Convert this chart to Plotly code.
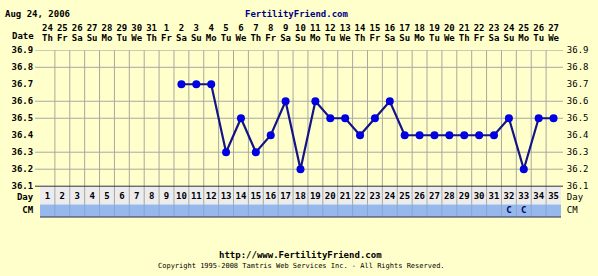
import plotly.graph_objects as go

# ---------------- data ----------------
days = list(range(1, 36))
dates = ["24", "25", "26", "27", "28", "29", "30", "31", "1", "2", "3", "4", "5", "6", "7", "8", "9",
         "10", "11", "12", "13", "14", "15", "16", "17", "18", "19", "20", "21", "22", "23", "24",
         "25", "26", "27"]
weekdays = ["Th", "Fr", "Sa", "Su", "Mo", "Tu", "We", "Th", "Fr", "Sa", "Su", "Mo", "Tu", "We",
            "Th", "Fr", "Sa", "Su", "Mo", "Tu", "We", "Th", "Fr", "Sa", "Su", "Mo", "Tu", "We",
            "Th", "Fr", "Sa", "Su", "Mo", "Tu", "We"]
temps = [None] * 9 + [36.7, 36.7, 36.7, 36.3, 36.5, 36.3, 36.4, 36.6, 36.2, 36.6, 36.5, 36.5,
                      36.4, 36.5, 36.6, 36.4, 36.4, 36.4, 36.4, 36.4, 36.4, 36.4, 36.5, 36.2,
                      36.5, 36.5]
cm = [""] * 31 + ["C", "C", "", ""]
temp_ticks = [36.1, 36.2, 36.3, 36.4, 36.5, 36.6, 36.7, 36.8, 36.9]
temp_ticktext = ["36.1", "36.2", "36.3", "36.4", "36.5", "36.6", "36.7", "36.8", "36.9"]
grid_temps = [36.9, 36.8, 36.6, 36.5, 36.3, 36.2]

# ---------------- styling ----------------
W, H = 598, 276
BG = "#FFFFCC"
FONT = "DejaVu Sans Mono"
FS = 9
GRID = "#A8A8A0"
DAYBG = "#ECECEE"
CMBG = "#96B8EC"


def px_x(p):
    return p / W


def px_y(p):
    return 1 - p / H


X0, X1 = 40, 561
TEMP_TOP, TEMP_BOT = 47, 188
ROW_TOP, ROW_MID, ROW_BOT = 188, 207, 220
HDR_TOP, HDR_BOT = 19, 41
DAY_Y, CM_Y = 21, 7          # row text positions (pixels above ROW_BOT)

fig = go.Figure()

# temperature line
fig.add_trace(go.Scatter(
    x=days, y=temps, mode="lines+markers", connectgaps=False,
    line=dict(color="#141488", width=2.2),
    marker=dict(color="#0000E0", size=8),
    xaxis="x", yaxis="y", hoverinfo="skip", cliponaxis=False))

# day numbers
fig.add_trace(go.Scatter(
    x=days, y=[DAY_Y] * len(days), mode="text", text=[str(d) for d in days],
    textfont=dict(family=FONT, size=FS, color="#000000", weight="bold"),
    xaxis="x", yaxis="y3", hoverinfo="skip", cliponaxis=False))
# CM row
fig.add_trace(go.Scatter(
    x=days, y=[CM_Y] * len(days), mode="text", text=cm,
    textfont=dict(family=FONT, size=FS, color="#000060", weight="bold"),
    xaxis="x", yaxis="y3", hoverinfo="skip", cliponaxis=False))
# header dates / weekdays
fig.add_trace(go.Scatter(
    x=days, y=[1.5] * len(days), mode="text", text=dates,
    textfont=dict(family=FONT, size=FS, color="#000000", weight="bold"),
    xaxis="x", yaxis="y4", hoverinfo="skip", cliponaxis=False))
fig.add_trace(go.Scatter(
    x=days, y=[0.5] * len(days), mode="text", text=weekdays,
    textfont=dict(family=FONT, size=FS, color="#000000", weight="bold"),
    xaxis="x", yaxis="y4", hoverinfo="skip", cliponaxis=False))

shapes = []
# day row and CM row backgrounds
shapes.append(dict(type="rect", xref="x", yref="paper", x0=0.5, x1=35.5,
                   y0=px_y(ROW_MID), y1=px_y(ROW_TOP),
                   fillcolor=DAYBG, line=dict(width=0), layer="below"))
shapes.append(dict(type="rect", xref="x", yref="paper", x0=0.5, x1=35.5,
                   y0=px_y(ROW_BOT), y1=px_y(ROW_MID),
                   fillcolor=CMBG, line=dict(width=0), layer="below"))
# vertical separators
for d in days[:-1]:
    shapes.append(dict(type="line", xref="x", yref="paper", x0=d + 0.5, x1=d + 0.5,
                       y0=px_y(ROW_MID), y1=px_y(TEMP_TOP), line=dict(color=GRID, width=1),
                       layer="below"))
    shapes.append(dict(type="line", xref="x", yref="paper", x0=d + 0.5, x1=d + 0.5,
                       y0=px_y(ROW_BOT), y1=px_y(ROW_MID), line=dict(color="#86A6D8", width=1),
                       layer="below"))
# horizontal grid lines
for t in grid_temps:
    shapes.append(dict(type="line", xref="paper", yref="y", x0=px_x(35), x1=px_x(563),
                       y0=t, y1=t, line=dict(color=GRID, width=1), layer="below"))
# dark borders
shapes.append(dict(type="line", xref="paper", yref="paper", x0=px_x(35), x1=px_x(563),
                   y0=px_y(ROW_TOP), y1=px_y(ROW_TOP), line=dict(color="#303040", width=1)))
shapes.append(dict(type="line", xref="paper", yref="paper", x0=px_x(X0), x1=px_x(X1),
                   y0=px_y(ROW_BOT), y1=px_y(ROW_BOT), line=dict(color="#303040", width=1)))

annotations = [
    dict(text="Aug 24, 2006", x=px_x(3), y=px_y(9), xref="paper", yref="paper",
         xanchor="left", yanchor="middle", showarrow=False,
         font=dict(family=FONT, size=FS, color="#000000", weight="bold")),
    dict(text="FertilityFriend.com", x=px_x(297), y=px_y(9), xref="paper", yref="paper",
         xanchor="center", yanchor="middle", showarrow=False,
         font=dict(family=FONT, size=FS, color="#000080", weight="bold")),
    dict(text="Date", x=px_x(36), y=px_y(32), xref="paper", yref="paper",
         xanchor="right", yanchor="middle", showarrow=False,
         font=dict(family=FONT, size=FS, color="#000000", weight="bold")),
    dict(text="http://www.FertilityFriend.com", x=px_x(300), y=px_y(259), xref="paper",
         yref="paper", xanchor="center", yanchor="middle", showarrow=False,
         font=dict(family=FONT, size=FS, color="#000000", weight="bold")),
    dict(text="Copyright 1995-2008 Tamtris Web Services Inc. - All Rights Reserved.",
         x=px_x(301), y=px_y(271), xref="paper", yref="paper", xanchor="center",
         yanchor="middle", showarrow=False,
         font=dict(family=FONT, size=7, color="#000000")),
]

tickfont = dict(family=FONT, size=FS, color="#000000", weight="bold")
tickfont_r = dict(family=FONT, size=FS, color="#000000")

fig.update_layout(
    width=W, height=H, autosize=False,
    margin=dict(l=0, r=0, t=0, b=0, pad=0),
    paper_bgcolor=BG, plot_bgcolor="rgba(0,0,0,0)",
    showlegend=False,
    shapes=shapes, annotations=annotations,
    xaxis=dict(domain=[px_x(X0), px_x(X1)], range=[0.5, 35.5], showgrid=False,
               zeroline=False, showticklabels=False, showline=False, anchor="y",
               fixedrange=True),
    yaxis=dict(domain=[px_y(TEMP_BOT), px_y(TEMP_TOP)], range=[36.1, 36.9],
               tickvals=temp_ticks, ticktext=temp_ticktext, showgrid=False,
               zeroline=False, showline=False, ticks="outside", ticklen=4,
               tickcolor="rgba(0,0,0,0)", tickfont=tickfont, anchor="x"),
    yaxis2=dict(overlaying="y", side="right", range=[36.1, 36.9], tickvals=temp_ticks,
                ticktext=temp_ticktext, showgrid=False, zeroline=False, showline=False,
                ticks="outside", ticklen=3, tickcolor="rgba(0,0,0,0)", tickfont=tickfont_r,
                anchor="x"),
    yaxis3=dict(domain=[px_y(ROW_BOT), px_y(ROW_TOP)], range=[0, ROW_BOT - ROW_TOP],
                tickvals=[CM_Y, DAY_Y], ticktext=["CM", "Day"], showgrid=False,
                zeroline=False, showline=False, ticks="outside", ticklen=4,
                tickcolor="rgba(0,0,0,0)", tickfont=tickfont, anchor="x"),
    yaxis5=dict(domain=[px_y(ROW_BOT), px_y(ROW_TOP)], overlaying="y3", side="right",
                range=[0, ROW_BOT - ROW_TOP], tickvals=[CM_Y, DAY_Y], ticktext=["CM", "Day"],
                showgrid=False, zeroline=False, showline=False, ticks="outside", ticklen=3,
                tickcolor="rgba(0,0,0,0)", tickfont=tickfont_r, anchor="x"),
    yaxis4=dict(domain=[px_y(HDR_BOT), px_y(HDR_TOP)], range=[0, 2], showgrid=False,
                zeroline=False, showline=False, showticklabels=False, anchor="x"),
)

# dummy traces so right-side axes render
fig.add_trace(go.Scatter(x=[None], y=[None], xaxis="x", yaxis="y2", hoverinfo="skip"))
fig.add_trace(go.Scatter(x=[None], y=[None], xaxis="x", yaxis="y5", hoverinfo="skip"))

fig.write_html("out.html")
